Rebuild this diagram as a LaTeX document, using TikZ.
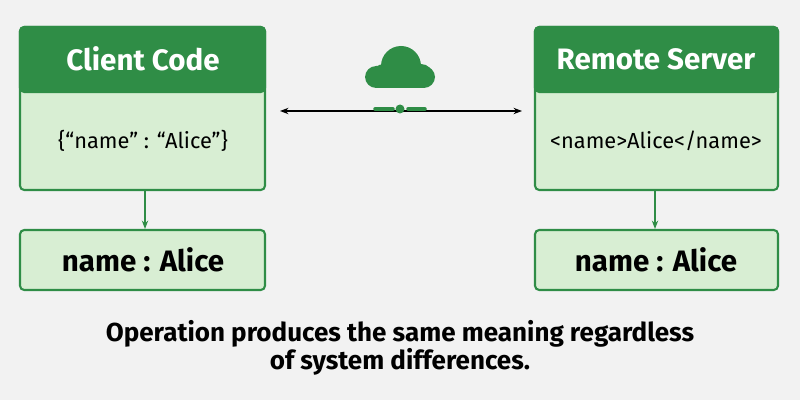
\documentclass[tikz,border=0pt]{standalone}
\usepackage{fontspec}
\setmainfont{Fira Sans}
\usetikzlibrary{arrows.meta,positioning}
\definecolor{hdgreen}{HTML}{2F8D46}
\definecolor{bodygreen}{HTML}{D8EED3}
\definecolor{bggray}{HTML}{F2F2F2}
\tikzset{
  head/.style={draw=hdgreen,fill=hdgreen,line width=1.5pt,rounded corners=3pt},
  body/.style={draw=hdgreen,fill=bodygreen,line width=1.5pt,rounded corners=3pt},
  headtext/.style={text=white,font=\fontsize{21}{24}\selectfont\bfseries},
  restext/.style={font=\fontsize{21}{24}\selectfont\bfseries},
  flow/.style={draw=hdgreen,line width=1pt,-{Stealth[length=6pt]}}
}
\begin{document}
\begin{tikzpicture}[x=0.025cm,y=-0.025cm]
  \fill[bggray] (0,0) rectangle (800,400);
  \useasboundingbox (0,0) rectangle (800,400);
  % left side
  \draw[body] (20,27) rectangle (265,190);
  \draw[head] (20,27) rectangle (265,92);
  \fill[hdgreen] (20,80) rectangle (265,92);
  \node[headtext] (lhead) at (143,59) {Client Code};
  \node[font=\fontsize{15.5}{18}\selectfont] (ljson) at (143,141) {\{“name” : “Alice”\}};
  \draw[body] (20,230) rectangle (265,290);
  \node[restext] (lres) at (143,260) {name : Alice};
  \coordinate (ltop) at (145,191);
  \coordinate (lbot) at (145,229);
  \draw[flow] (ltop) -- (lbot);
  % right side
  \draw[body] (535,27) rectangle (778,190);
  \draw[head] (535,27) rectangle (778,92);
  \fill[hdgreen] (535,80) rectangle (778,92);
  \node[headtext] (rhead) at (656,59) {Remote Server};
  \node[font=\fontsize{15.5}{18}\selectfont] (rxml) at (656,141) {<name>Alice</name>};
  \draw[body] (535,230) rectangle (778,290);
  \node[restext] (rres) at (656,260) {name : Alice};
  \coordinate (rtop) at (655,191);
  \coordinate (rbot) at (655,229);
  \draw[flow] (rtop) -- (rbot);
  % network
  \coordinate (netl) at (280,111);
  \coordinate (netr) at (522,111);
  \draw[line width=1pt,{Stealth[length=6pt]}-{Stealth[length=6pt]}] (netl) -- (netr);
  \fill[hdgreen,rounded corners=8pt] (365,66) rectangle (435,88);
  \fill[hdgreen] (401,66) circle (20);
  \fill[hdgreen] (384,76) circle (12);
  \fill[hdgreen] (421,76) circle (12);
  \draw[hdgreen,line width=2.5pt,line cap=round] (375,109) -- (393,109);
  \draw[hdgreen,line width=2.5pt,line cap=round] (408,109) -- (425,109);
  \fill[hdgreen] (400,109) circle (4.5);
  % caption
  \node[font=\fontsize{18.5}{19.5}\selectfont\bfseries,align=center] (note) at (400,348)
    {Operation produces the same meaning regardless\\of system differences.};
\end{tikzpicture}
\end{document}
